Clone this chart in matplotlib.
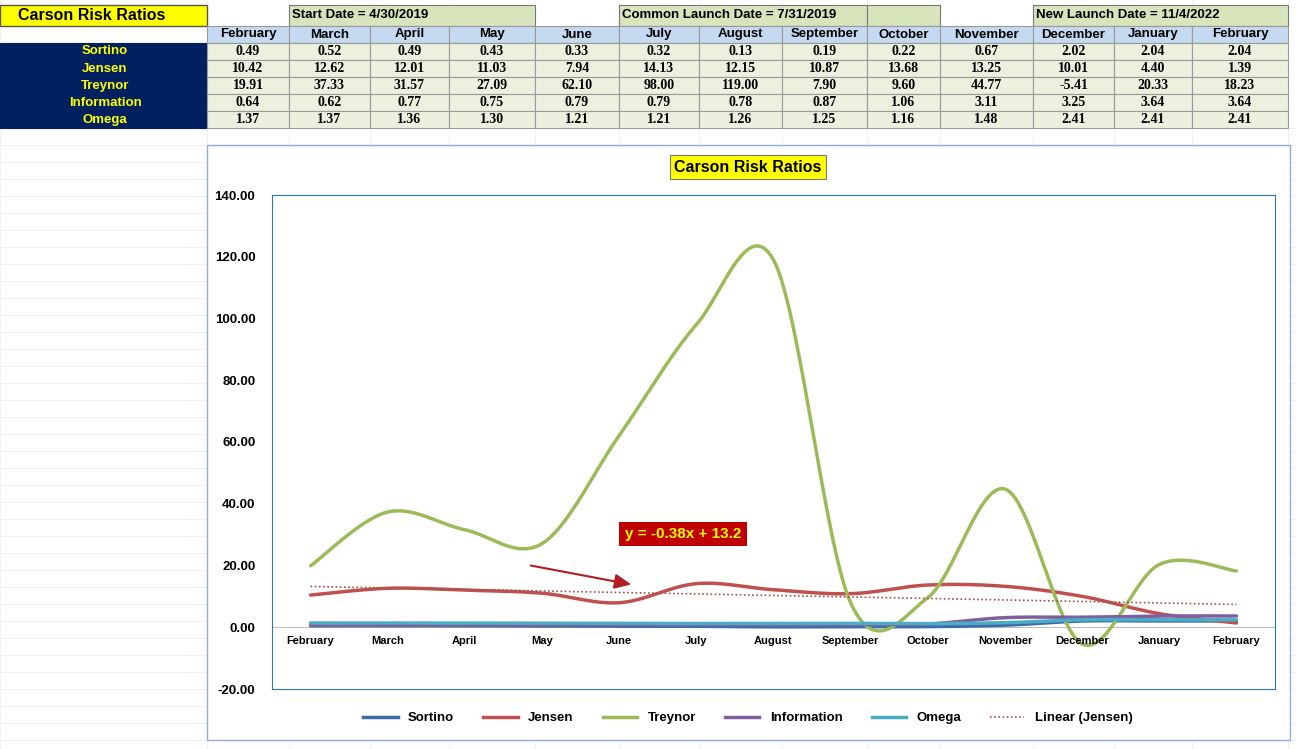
import numpy as np
import matplotlib
matplotlib.use("Agg")
import matplotlib.pyplot as plt
from matplotlib.patches import Rectangle
from matplotlib.lines import Line2D

W, H = 1296, 749

months = ["February", "March", "April", "May", "June", "July", "August",
          "September", "October", "November", "December", "January", "February"]
sortino = [0.49, 0.52, 0.49, 0.43, 0.33, 0.32, 0.13, 0.19, 0.22, 0.67, 2.02, 2.04, 2.04]
jensen = [10.42, 12.62, 12.01, 11.03, 7.94, 14.13, 12.15, 10.87, 13.68, 13.25, 10.01, 4.40, 1.39]
treynor = [19.91, 37.33, 31.57, 27.09, 62.10, 98.00, 119.00, 7.90, 9.60, 44.77, -5.41, 20.33, 18.23]
information = [0.64, 0.62, 0.77, 0.75, 0.79, 0.79, 0.78, 0.87, 1.06, 3.11, 3.25, 3.64, 3.64]
omega = [1.37, 1.37, 1.36, 1.30, 1.21, 1.21, 1.26, 1.25, 1.16, 1.48, 2.41, 2.41, 2.41]
trend_label = "y = -0.38x + 13.2"

series = [("Sortino", sortino, "#3D6DA8"), ("Jensen", jensen, "#C0504D"),
          ("Treynor", treynor, "#9BBB59"), ("Information", information, "#7F5F9E"),
          ("Omega", omega, "#4BACC6")]

col_edges = [0, 207, 289, 370, 449, 535, 619, 699, 782, 867, 940, 1033, 1114, 1192, 1288]
row_edges = [5, 26, 43, 60, 77, 94, 111, 128]

fig = plt.figure(figsize=(W / 100, H / 100), dpi=100)
bg = fig.add_axes([0, 0, 1, 1])
bg.set_xlim(0, W)
bg.set_ylim(H, 0)
bg.axis("off")


def rect(x0, y0, x1, y1, fc, ec="#9a9a9a", lw=0.8, z=1):
    bg.add_patch(Rectangle((x0, y0), x1 - x0, y1 - y0, fc=fc, ec=ec, lw=lw, zorder=z))


# faint spreadsheet grid
for x in col_edges:
    bg.plot([x, x], [0, H], color="#ececec", lw=0.5, zorder=0)
for y in range(128, H, 17):
    bg.plot([0, W], [y, y], color="#ececec", lw=0.5, zorder=0)

# header row
rect(0, 5, 207, 26, "#FFFF00", ec="#555555", lw=1)
bg.text(92, 15.5, "Carson Risk Ratios", ha="center", va="center", fontsize=11.5,
        weight="bold", family="Liberation Sans")
for x0, x1, txt in [(289, 535, "Start Date = 4/30/2019"),
                    (619, 867, "Common Launch Date = 7/31/2019"),
                    (867, 940, ""),
                    (1033, 1288, "New Launch Date = 11/4/2022")]:
    rect(x0, 5, x1, 26, "#D8E4BC", ec="#777777")
    bg.text(x0 + 3, 15.5, txt, ha="left", va="center", fontsize=9.5, weight="bold",
            family="Liberation Sans")

# month row
for i, m in enumerate(months):
    x0, x1 = col_edges[i + 1], col_edges[i + 2]
    rect(x0, 26, x1, 43, "#C5D9F1")
    bg.text((x0 + x1) / 2, 34.5, m, ha="center", va="center", fontsize=9.5,
            weight="bold", family="Liberation Sans")

# data rows
for r, (name, vals, _) in enumerate(series):
    y0, y1 = row_edges[r + 2], row_edges[r + 3]
    rect(0, y0, 207, y1, "#002060", ec="#002060")
    bg.text(105, (y0 + y1) / 2, name, ha="center", va="center", fontsize=9.5,
            weight="bold", color="#FFFF00", family="Liberation Sans")
    for i, v in enumerate(vals):
        x0, x1 = col_edges[i + 1], col_edges[i + 2]
        rect(x0, y0, x1, y1, "#EBF1DE")
        bg.text((x0 + x1) / 2, (y0 + y1) / 2, f"{v:.2f}", ha="center", va="center",
                fontsize=10, weight="bold", family="Liberation Serif")

# chart frame
rect(207, 145, 1290, 740, "white", ec="#8faadc", lw=1, z=2)
bg.text(748, 167, "Carson Risk Ratios", ha="center", va="center", fontsize=11.5,
        weight="bold", zorder=3, family="Liberation Sans",
        bbox=dict(boxstyle="square,pad=0.3", fc="#FFFF00", ec="#777777", lw=0.8))

ax = fig.add_axes([272 / W, 1 - 689 / H, (1275 - 272) / W, (689 - 195) / H])
ax.set_zorder(5)
ax.patch.set_alpha(0)
x = np.arange(len(months))


def smooth(xs, ys, n=30):
    # Catmull-Rom curve through the data points, like Excel's smoothed line
    p = np.column_stack([xs, ys]).astype(float)
    p = np.vstack([p[0], p, p[-1]])
    out = []
    t = np.linspace(0, 1, n)[:, None]
    for i in range(1, len(p) - 2):
        p0, p1, p2, p3 = p[i - 1], p[i], p[i + 1], p[i + 2]
        seg = 0.5 * ((2 * p1) + (-p0 + p2) * t + (2 * p0 - 5 * p1 + 4 * p2 - p3) * t ** 2
                     + (-p0 + 3 * p1 - 3 * p2 + p3) * t ** 3)
        out.append(seg)
    out = np.vstack(out)
    return out[:, 0], out[:, 1]


handles = []
for name, vals, c in series:
    sx, sy = smooth(x, vals)
    ax.plot(sx, sy, color=c, lw=2.5, solid_capstyle="round")
    handles.append(Line2D([], [], color=c, lw=2.5, label=name))

k, b = np.polyfit(x + 1, jensen, 1)
ax.plot(x, k * (x + 1) + b, color="#A0524F", lw=1.2, ls=(0, (1, 1.5)))
handles.append(Line2D([], [], color="#A0524F", lw=1.2, ls=(0, (1, 1.5)),
                      label="Linear (Jensen)"))

ax.set_xlim(-0.5, len(months) - 0.5)
ax.set_ylim(-20, 140)
ax.set_yticks(np.arange(-20, 141, 20))
ax.set_yticklabels([f"{v:.2f}" for v in np.arange(-20, 141, 20)], fontsize=9.5,
                   weight="bold", family="Liberation Sans")
ax.set_xticks([])
for i, m in enumerate(months):
    ax.text(i, -4.5, m, ha="center", va="center", fontsize=8, weight="bold",
            family="Liberation Sans")
ax.axhline(0, color="#bfbfbf", lw=0.8, zorder=0)
for s in ax.spines.values():
    s.set_color("#2E75B6")
    s.set_linewidth(0.8)
ax.tick_params(length=0, pad=12)

bg.text(683, 534, trend_label, ha="center", va="center", fontsize=11,
        weight="bold", color="#FFFF00", zorder=6, family="Liberation Sans",
        bbox=dict(boxstyle="square,pad=0.35", fc="#C00000", ec="none"))
bg.annotate("", xy=(634, 585), xytext=(528, 565), zorder=6,
            arrowprops=dict(arrowstyle="-|>,head_length=1.0,head_width=0.45",
                            color="#B01E23", lw=1.5))

leg = fig.legend(handles=handles, loc="center", bbox_to_anchor=(748 / W, 1 - 718 / H),
                 ncol=6, frameon=False, handlelength=2.6, columnspacing=2.2,
                 prop=dict(weight="bold", family="Liberation Sans", size=9.5))

fig.savefig("out.png", dpi=100)
